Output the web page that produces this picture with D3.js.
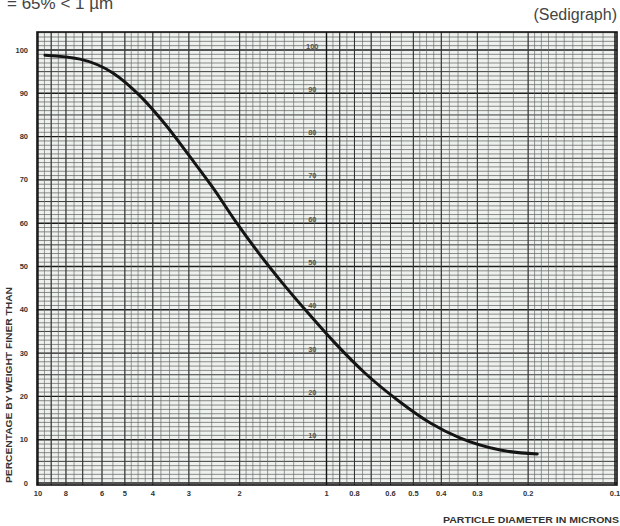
<!DOCTYPE html>
<html><head><meta charset="utf-8">
<script src="https://cdn.jsdelivr.net/npm/d3@7"></script>
<style>body{margin:0;background:#fff}svg{display:block}</style>
</head><body>
<svg id="c" width="620" height="526"></svg>
<script>
// Data (particle diameter in microns, % finer by weight)
const diameters = [9.46, 7.15, 5.50, 4.43, 3.63, 2.97, 2.47, 2.06, 1.70, 1.43, 1.16, 0.934, 0.736, 0.556, 0.438, 0.345, 0.250, 0.186];
const percentFiner = [98.8, 97.9, 94.7, 89.4, 82.9, 75.3, 68.1, 60.3, 52.7, 46.4, 39.3, 32.3, 25.4, 18.7, 13.9, 10.4, 7.6, 6.7];
const xTickValues = [10, 8, 6, 5, 4, 3, 2, 1, 0.8, 0.6, 0.5, 0.4, 0.3, 0.2, 0.1];
const xTickLabels = ["10", "8", "6", "5", "4", "3", "2", "1", "0.8", "0.6", "0.5", "0.4", "0.3", "0.2", "0.1"];
const yTickValues = [0, 10, 20, 30, 40, 50, 60, 70, 80, 90, 100];
const innerYLabels = [10, 20, 30, 40, 50, 60, 70, 80, 90, 100];

(function () {
const svg = d3.select("#c");
const x = d3.scaleLog().domain([10, 0.1]).range([38, 615]);
const y = d3.scaleLinear().domain([0, 100]).range([483, 50]);
const pTop = 32, pBottom = 485, pLeft = 37, pRight = 617;
const font = "Liberation Sans, Arial, sans-serif";

// paper
svg.append("rect").attr("x", pLeft).attr("y", pTop).attr("width", pRight - pLeft).attr("height", pBottom - pTop)
  .attr("fill", "#eef2ee");

const grid = svg.append("g");
// horizontal grid every 1%
const hVals = d3.range(0, 105, 1);
grid.selectAll("line.h").data(hVals).join("line")
  .attr("x1", pLeft).attr("x2", pRight)
  .attr("y1", d => y(d)).attr("y2", d => y(d))
  .attr("stroke", d => d % 10 === 0 ? "#1c1c1c" : (d % 5 === 0 ? "#383838" : "#646464"))
  .attr("stroke-width", d => d % 10 === 0 ? 1.4 : (d % 5 === 0 ? 1.0 : 0.75));

// vertical log grid
const vMinor = [], vMajor = [];
[1, 0.1].forEach(s => {
  d3.range(1, 2, 0.1).forEach(v => vMinor.push(+(v * s).toFixed(4)));
  d3.range(2, 5, 0.25).forEach(v => vMinor.push(+(v * s).toFixed(4)));
  d3.range(5, 10, 0.5).forEach(v => vMinor.push(+(v * s).toFixed(4)));
  d3.range(1, 10, 1).forEach(v => vMajor.push(+(v * s).toFixed(4)));
});
vMajor.push(10);
grid.selectAll("line.vm").data(vMinor).join("line")
  .attr("x1", d => x(d)).attr("x2", d => x(d))
  .attr("y1", pTop).attr("y2", pBottom)
  .attr("stroke", "#646464").attr("stroke-width", 0.65);
grid.selectAll("line.vM").data(vMajor).join("line")
  .attr("x1", d => x(d)).attr("x2", d => x(d))
  .attr("y1", pTop).attr("y2", pBottom)
  .attr("stroke", d => (d === 1 || d === 0.1 || d === 10) ? "#111" : "#2e2e2e")
  .attr("stroke-width", d => (d === 1 || d === 0.1 || d === 10) ? 1.4 : 1.0);

// frame
svg.append("rect").attr("x", pLeft).attr("y", pTop).attr("width", pRight - pLeft).attr("height", pBottom - pTop)
  .attr("fill", "none").attr("stroke", "#111").attr("stroke-width", 1.6);

// inner faint labels
svg.append("g").selectAll("text").data(innerYLabels).join("text")
  .attr("x", x(1.12)).attr("y", d => y(d) - 1.5)
  .attr("text-anchor", "middle")
  .attr("font-family", font).attr("font-size", 7.5).attr("font-weight", "bold")
  .attr("fill", "#555").text(d => d);

// curve
const pts = diameters.map((d, i) => [x(d), y(percentFiner[i])]);
svg.append("path").attr("d", d3.line().curve(d3.curveMonotoneX)(pts))
  .attr("fill", "none").attr("stroke", "#141414").attr("stroke-width", 3).attr("stroke-linecap", "round");

// y tick labels
svg.append("g").selectAll("text").data(yTickValues).join("text")
  .attr("x", 28).attr("y", d => y(d) + 2.5).attr("text-anchor", "end")
  .attr("font-family", font).attr("font-size", 7.5).attr("font-weight", "bold")
  .attr("fill", "#333").text(d => d);

// x tick labels
svg.append("g").selectAll("text").data(xTickValues).join("text")
  .attr("x", d => x(d)).attr("y", 496).attr("text-anchor", "middle")
  .attr("font-family", font).attr("font-size", 7.5).attr("font-weight", "bold")
  .attr("fill", "#333").text((d, i) => xTickLabels[i]);

// axis titles
svg.append("text").attr("transform", "translate(12,385) rotate(-90)").attr("text-anchor", "middle")
  .attr("font-family", font).attr("font-size", 8.5).attr("font-weight", "bold")
  .attr("textLength", 196).attr("lengthAdjust", "spacingAndGlyphs")
  .attr("fill", "#333").text("PERCENTAGE BY WEIGHT FINER THAN");
svg.append("text").attr("x", 619).attr("y", 523).attr("text-anchor", "end")
  .attr("font-family", font).attr("font-size", 9).attr("font-weight", "bold")
  .attr("textLength", 176).attr("lengthAdjust", "spacingAndGlyphs")
  .attr("fill", "#333").text("PARTICLE DIAMETER IN MICRONS");

// headings
svg.append("text").attr("x", 617).attr("y", 20).attr("text-anchor", "end")
  .attr("font-family", font).attr("font-size", 16)
  .attr("fill", "#444").text("(Sedigraph)");
svg.append("text").attr("x", 7).attr("y", 9)
  .attr("font-family", font).attr("font-size", 17)
  .attr("fill", "#444").text("= 65% < 1 µm");
})();
</script>
</body></html>
